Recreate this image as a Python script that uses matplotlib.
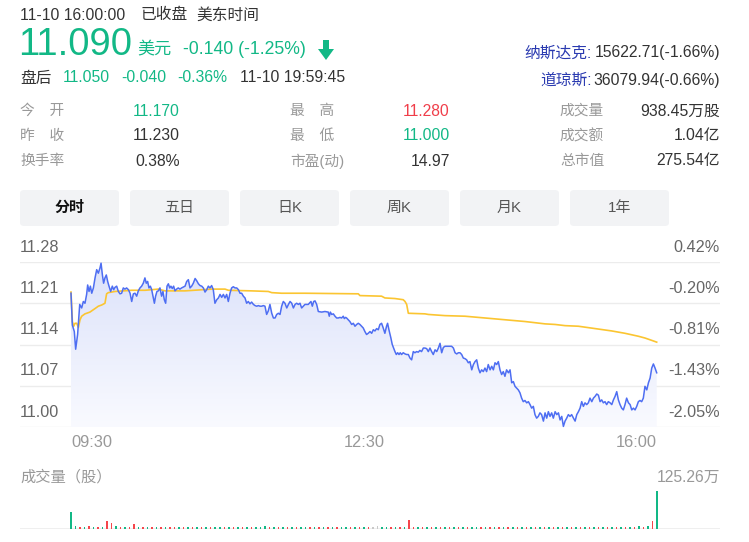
import numpy as np
import matplotlib
matplotlib.use("Agg")
import matplotlib.pyplot as plt
from matplotlib.patches import FancyBboxPatch, Polygon
from matplotlib.colors import LinearSegmentedColormap

plt.rcParams['font.family'] = ['Liberation Sans', 'Noto Sans CJK SC']

# ---------------- data ----------------
price_t = [0.0, 0.9, 2.2, 3.1, 4.4, 5.8, 7.1, 8.2, 9.3, 10.4, 11.1, 12.0, 12.9, 13.8, 14.9, 16.0, 17.1, 18.2, 19.3, 20.0,
           20.9, 21.7, 22.6, 23.5, 24.4, 25.3, 26.4, 27.5, 28.4, 29.3, 30.4, 31.5, 32.6, 33.7, 34.8, 35.9, 37.0, 38.2,
           39.3, 40.4, 41.5, 42.6, 43.7, 44.8, 45.9, 47.0, 48.1, 49.2, 50.1, 51.0, 51.9, 52.8, 53.7, 54.8, 55.5, 56.3,
           57.2, 58.1, 59.2, 60.3, 61.2, 62.1, 63.0, 63.9, 64.8, 65.7, 66.5, 67.4, 68.3, 69.2, 70.3, 71.4, 72.5, 73.6,
           75.9, 77.0, 78.1, 79.2, 80.3, 81.4, 82.6, 83.7, 84.8, 85.9, 87.0, 88.1, 89.2, 90.3, 91.4, 92.5, 93.6, 94.7,
           95.8, 97.0, 98.1, 99.2, 100.3, 101.4, 102.5, 103.6, 104.7, 105.8, 106.9, 108.0, 109.2, 110.3, 111.4, 112.5,
           113.6, 114.7, 115.8, 116.9, 118.0, 119.1, 120.2, 121.4, 122.5, 123.6, 124.7, 125.8, 126.9, 128.0, 129.1,
           130.2, 131.3, 132.4, 133.6, 134.7, 135.8, 136.9, 138.0, 139.1, 140.2, 141.3, 142.4, 143.6, 144.7, 145.8,
           146.9, 148.0, 149.1, 150.2, 151.3, 152.4, 153.5, 154.6,
           155.7, 157.9, 159.7, 160.6, 161.5, 162.4, 163.5, 164.6, 166.8, 169.0, 171.2, 171.9, 172.6, 173.5, 174.6,
           175.7, 176.8, 177.9, 179.0, 180.1, 181.2, 181.9, 182.8, 183.4, 184.5, 185.6, 186.8, 187.9, 189.0, 190.1,
           191.2, 192.3, 193.4, 194.5, 195.6, 196.7, 197.8, 199.0, 200.1, 201.2, 202.3, 203.4, 204.5, 205.6, 206.7,
           207.8, 208.9, 210.0, 210.7, 211.6, 212.9, 213.8, 214.7, 215.6, 216.5, 217.4, 218.3, 219.1, 220.0, 221.1,
           222.3, 223.4, 224.5, 225.6, 226.7, 227.8, 228.9, 230.0, 231.1, 232.2, 233.3, 234.5,
           235.6, 236.7, 237.8, 238.9, 240.0, 241.1, 242.3, 243.4, 244.5, 245.6, 246.7, 247.8, 248.9, 251.1, 253.3,
           254.5, 255.6, 256.7, 257.8, 258.9, 260.0, 261.1, 262.2, 263.3, 264.4, 265.5, 266.7, 267.8, 268.9, 270.0,
           271.1, 272.2, 273.3, 274.4, 275.5, 276.6, 277.7, 278.9, 280.0, 281.1, 282.2, 283.3, 284.4, 285.5, 286.6,
           287.7, 288.8, 289.9, 291.1, 292.2, 293.3, 294.4, 295.5, 296.6, 297.7, 298.8, 299.9, 301.0, 302.1, 303.3,
           304.4, 305.5, 306.6, 307.7, 308.8, 309.9, 311.0, 312.1, 313.2, 314.4,
           315.5, 316.6, 317.7, 318.8, 319.9, 321.0, 322.2, 323.3, 324.4, 325.5, 326.6, 327.7, 328.8, 329.9, 331.0,
           332.1, 333.2, 334.4, 335.5, 336.6, 337.7, 338.8, 339.9, 341.0, 342.1, 343.2, 344.3, 345.4, 346.6, 347.7,
           348.8, 349.9, 351.0, 352.1, 353.2, 354.3, 355.4, 356.5, 357.6, 358.8, 359.9, 361.0, 362.1, 363.2, 364.3,
           365.4, 366.5, 367.6, 368.7, 369.8, 371.0, 372.1, 373.2, 374.3, 375.4, 376.5, 377.6, 378.7, 379.8, 380.9,
           382.0, 383.2, 384.3, 385.4, 386.5, 387.6, 388.7, 389.8]
price_v = [11.227, 11.173, 11.162, 11.132, 11.157, 11.208, 11.202, 11.213, 11.210, 11.225, 11.241, 11.230, 11.239, 11.227,
           11.236, 11.253, 11.267, 11.261, 11.270, 11.278, 11.258, 11.244, 11.253, 11.258, 11.247, 11.239, 11.230, 11.239,
           11.233, 11.237, 11.239, 11.230, 11.226, 11.227, 11.236, 11.234, 11.236, 11.233, 11.227, 11.213, 11.226, 11.227,
           11.222, 11.231, 11.236, 11.239, 11.244, 11.253, 11.244, 11.247, 11.236, 11.239, 11.233, 11.219, 11.210, 11.222,
           11.230, 11.231, 11.236, 11.222, 11.230, 11.216, 11.210, 11.239, 11.243, 11.236, 11.239, 11.235, 11.239, 11.231,
           11.234, 11.236, 11.234, 11.236,
           11.239, 11.247, 11.250, 11.236, 11.239, 11.244, 11.252, 11.248, 11.243, 11.240, 11.239, 11.236, 11.229, 11.233,
           11.239, 11.236, 11.240, 11.233, 11.210, 11.216, 11.219, 11.225, 11.220, 11.225, 11.219, 11.225, 11.213, 11.227,
           11.236, 11.238, 11.236, 11.236, 11.233, 11.227, 11.227, 11.222, 11.219, 11.210, 11.213, 11.209, 11.212, 11.208,
           11.206, 11.205, 11.206, 11.205, 11.205, 11.206, 11.205, 11.191, 11.197, 11.208, 11.193, 11.185, 11.185, 11.191,
           11.193, 11.191, 11.205, 11.213, 11.210, 11.202, 11.208, 11.213, 11.210, 11.202, 11.208, 11.210, 11.208, 11.210,
           11.202, 11.205,
           11.208, 11.208, 11.213, 11.205, 11.213, 11.214, 11.208, 11.196, 11.195, 11.196, 11.195, 11.188, 11.195, 11.191,
           11.192, 11.188, 11.185, 11.185, 11.186, 11.185, 11.188, 11.184, 11.186, 11.185, 11.182, 11.179, 11.174, 11.176,
           11.171, 11.174, 11.176, 11.174, 11.171, 11.168, 11.162, 11.157, 11.159, 11.162, 11.159, 11.165, 11.163, 11.167,
           11.165, 11.174, 11.176, 11.168, 11.159, 11.171, 11.176, 11.165, 11.151, 11.140, 11.134, 11.128, 11.123, 11.126,
           11.123, 11.126, 11.123, 11.126, 11.124, 11.123, 11.123, 11.117, 11.114, 11.128, 11.126, 11.128, 11.127, 11.130,
           11.128, 11.134,
           11.134, 11.133, 11.128, 11.134, 11.128, 11.123, 11.131, 11.128, 11.134, 11.142, 11.126, 11.135, 11.137, 11.137,
           11.137, 11.134, 11.126, 11.124, 11.126, 11.126, 11.123, 11.117, 11.116, 11.114, 11.109, 11.111, 11.097, 11.106,
           11.111, 11.114, 11.100, 11.092, 11.097, 11.094, 11.100, 11.094, 11.106, 11.097, 11.103, 11.097, 11.109, 11.106,
           11.111, 11.097, 11.089, 11.094, 11.086, 11.097, 11.092, 11.097, 11.075, 11.077, 11.069, 11.066, 11.063, 11.058,
           11.049, 11.043, 11.045, 11.041, 11.043, 11.038, 11.032, 11.035, 11.021, 11.015, 11.018, 11.024, 11.021, 11.010,
           11.024, 11.015, 11.026, 11.018, 11.024, 11.015, 11.026, 11.021, 11.024, 11.012, 11.018, 11.001, 11.010, 11.015,
           11.021, 11.018, 11.021, 11.015, 11.010, 11.021, 11.026, 11.032, 11.043, 11.035, 11.041, 11.038, 11.041, 11.049,
           11.043, 11.049, 11.052, 11.056, 11.054, 11.043, 11.046, 11.041, 11.043, 11.038, 11.043, 11.041, 11.038, 11.046,
           11.052, 11.060, 11.046, 11.038, 11.032, 11.029, 11.038, 11.049, 11.041, 11.038, 11.029, 11.032, 11.029, 11.035,
           11.043, 11.045, 11.043, 11.049, 11.069, 11.063, 11.075, 11.083, 11.100, 11.107, 11.100, 11.092]

avg_t = [0.0, 0.9, 1.8, 2.7, 3.8, 4.9, 6.0, 7.1, 9.3, 12.6, 16.0, 18.2, 20.4, 22.6, 23.7, 24.8, 29.3, 40.4, 49.2, 58.1,
         62.6, 75.9, 93.6, 102.5, 104.7, 120.2, 131.3, 133.6, 140.2, 155.6, 191.2, 192.3, 206.7, 208.9, 215.6, 221.1,
         222.3, 223.4, 224.5, 235.6, 237.8, 248.9, 262.2, 275.5, 288.8, 302.1, 315.5, 322.2, 328.8, 337.7, 348.8,
         359.9, 368.7, 377.6, 382.0, 386.5, 389.8]
avg_v = [11.229, 11.179, 11.171, 11.176, 11.176, 11.169, 11.182, 11.188, 11.192, 11.195, 11.201, 11.205, 11.207, 11.210,
         11.226, 11.228, 11.230, 11.232, 11.232, 11.234, 11.231, 11.231, 11.234, 11.234, 11.232, 11.231, 11.230, 11.228,
         11.227, 11.227, 11.226, 11.223, 11.222, 11.219, 11.218, 11.216, 11.213, 11.208, 11.193, 11.192, 11.191, 11.189,
         11.188, 11.185, 11.182, 11.179, 11.175, 11.174, 11.172, 11.171, 11.167, 11.163, 11.159, 11.154, 11.151, 11.147,
         11.144]

# volume (万股), one bar every 3 minutes
vol_t = list(range(0, 391, 3))
vol_v = [55, 10, 8, 7, 9, 7, 8, 6, 25, 20,
         9, 8, 7, 6, 16, 7, 6, 7, 8, 6,
         7, 6, 7, 8, 6, 7, 6, 7, 6, 7,
         6, 8, 6, 7, 6, 6, 7, 6, 6, 5,
         6, 5, 6, 9, 6, 7, 6, 5, 6, 7,
         5, 6, 5, 6, 5, 5, 6, 5, 6, 5,
         6, 5, 5, 6, 5, 6, 5, 7, 9, 6,
         5, 7, 6, 5, 6, 30, 6, 5, 6, 7,
         6, 5, 6, 8, 6, 5, 6, 7, 6, 5,
         6, 7, 6, 5, 6, 7, 6, 5, 6, 7,
         6, 7, 6, 7, 8, 6, 7, 6, 7, 8,
         7, 6, 7, 8, 7, 6, 7, 8, 7, 6,
         7, 8, 7, 8, 7, 8, 9, 8, 11, 27,
         125.26]
vol_c = ("ggrgrgrgrr" "grgrrgrgrg" "rgrrgrgrgr" "grggrgrgrg" "rgggrgrgrg" "rggrgrgrgr" "ggrgrgrnng"
         "grgrgrrgrg" "rgrgrgrgrg" "grgrgrgrgr" "grgrgrgrgr" "grgrgrgrgr" "grgrgrgrgr" "g")

y_ticks = [11.28, 11.21, 11.14, 11.07, 11.00]
y_left_labels = ["11.28", "11.21", "11.14", "11.07", "11.00"]
y_right_labels = ["0.42%", "-0.20%", "-0.81%", "-1.43%", "-2.05%"]
x_tick_pos = [0, 195, 390]
x_tick_labels = ["09:30", "12:30", "16:00"]
tabs = ["分时", "五日", "日K", "周K", "月K", "1年"]

table_rows = [
    [("今\u3000开", "11.170", "green"), ("最\u3000高", "11.280", "red"), ("成交量", "938.45万股", "dark")],
    [("昨\u3000收", "11.230", "dark"), ("最\u3000低", "11.000", "green"), ("成交额", "1.04亿", "dark")],
    [("换手率", "0.38%", "dark"), ("市盈(动)", "14.97", "dark"), ("总市值", "275.54亿", "dark")],
]

# ---------------- style ----------------
W, H = 749, 542
GREEN = "#12b886"
RED = "#f03e4a"
DARK = "#333333"
GRAY = "#999999"
LBL = "#666666"
BLUE = "#4e6ef2"
YELLOW = "#fbc531"
GRID = "#ececec"
colmap = {"green": GREEN, "red": RED, "dark": DARK}
FS = 11.3

fig = plt.figure(figsize=(W / 100, H / 100), dpi=100)
fig.patch.set_facecolor("white")


def T(x, y, s, **kw):
    kw.setdefault("va", "center")
    kw.setdefault("ha", "left")
    return fig.text(x / W, 1 - y / H, s, **kw)


# header
T(20, 15, "11-10 16:00:00", fontsize=FS, color=DARK)
T(141, 15, "已收盘", fontsize=FS, color=DARK)
T(196, 15, "美东时间", fontsize=FS, color=DARK)
T(18, 45, "11.090", fontsize=27.5, color=GREEN)
T(137, 49, "美元", fontsize=12.3, color=GREEN)
T(183, 49, "-0.140 (-1.25%)", fontsize=12.7, color=GREEN)
# down arrow icon
arrow = Polygon([(323 / W, 1 - 40 / H), (329 / W, 1 - 40 / H), (329 / W, 1 - 49 / H), (334 / W, 1 - 49 / H),
                 (326 / W, 1 - 60 / H), (318 / W, 1 - 49 / H), (323 / W, 1 - 49 / H)],
                closed=True, transform=fig.transFigure, facecolor=GREEN, edgecolor="none")
fig.patches.append(arrow)

T(20, 78, "盘后", fontsize=FS, color=DARK)
T(63, 78, "11.050", fontsize=FS, color=GREEN)
T(121, 78, "-0.040", fontsize=FS, color=GREEN)
T(177, 78, "-0.36%", fontsize=FS, color=GREEN)
T(240, 78, "11-10 19:59:45", fontsize=FS, color=DARK)

T(720, 53, "15622.71(-1.66%)", fontsize=FS, color=DARK, ha="right")
T(592, 53, "纳斯达克:", fontsize=FS, color="#2a3ab0", ha="right")
T(720, 80, "36079.94(-0.66%)", fontsize=FS, color=DARK, ha="right")
T(592, 80, "道琼斯:", fontsize=FS, color="#2a3ab0", ha="right")

# table
col_lbl_x = [20, 290, 560]
col_val_x = [180, 450, 720]
row_y = [111, 136, 161]
for r, row in enumerate(table_rows):
    for c, (lab, val, col) in enumerate(row):
        T(col_lbl_x[c], row_y[r], lab, fontsize=10.6, color=GRAY)
        T(col_val_x[c], row_y[r], val, fontsize=11.3, color=colmap[col], ha="right")

# tabs
for i, name in enumerate(tabs):
    x0 = 20 + i * 110
    box = FancyBboxPatch((x0 / W, 1 - 226 / H), 99 / W, 36 / H,
                         boxstyle="round,pad=0,rounding_size=0.006", transform=fig.transFigure,
                         facecolor="#f2f3f5", edgecolor="none")
    fig.patches.append(box)
    T(x0 + 49.5, 208, name, fontsize=10.8, ha="center",
      color="#111111" if i == 0 else "#555555", fontweight="bold" if i == 0 else "normal")

# ---------------- main price chart ----------------
px_per_min = 586 / 390
xl = (20 - 71) / px_per_min
xr = 390 + (720 - 657) / px_per_min
ax = fig.add_axes([20 / W, (H - 427) / H, 700 / W, 165 / H])
ax.set_xlim(xl, xr)
ax.set_ylim(11.00, 11.28)
ax.axis("off")
for yv in y_ticks:
    ax.axhline(yv, color=GRID, lw=1, zorder=0)

pt = np.array(price_t)
pv = np.array(price_v)
verts = np.column_stack([np.r_[pt, pt[-1], pt[0]], np.r_[pv, 11.00, 11.00]])
poly = Polygon(verts, closed=True, facecolor="none", edgecolor="none")
ax.add_patch(poly)
cmap = LinearSegmentedColormap.from_list("fillg", ["#f9faff", "#dce2fa"])
grad = np.linspace(0, 1, 256).reshape(-1, 1)
im = ax.imshow(grad, extent=[pt[0], pt[-1], 11.00, max(price_v)], origin="lower", aspect="auto",
               cmap=cmap, zorder=1, interpolation="bilinear")
im.set_clip_path(poly)
ax.set_xlim(xl, xr)
ax.set_ylim(11.00, 11.28)
ax.plot(pt, pv, color=BLUE, lw=1.1, zorder=3, clip_on=False)
ax.plot(avg_t, avg_v, color=YELLOW, lw=1.2, zorder=2, clip_on=False)

for yv, l1, l2 in zip(y_ticks, y_left_labels, y_right_labels):
    ax.annotate(l1, xy=(0, yv), xycoords=("axes fraction", "data"), xytext=(0, 10.8),
                textcoords="offset points", ha="left", va="center", fontsize=11.7, color=LBL)
    ax.annotate(l2, xy=(1, yv), xycoords=("axes fraction", "data"), xytext=(0, 10.8),
                textcoords="offset points", ha="right", va="center", fontsize=11.7, color=LBL)
for xp, lab, ha in zip(x_tick_pos, x_tick_labels, ["left", "center", "right"]):
    ax.annotate(lab, xy=(xp, 11.00), xycoords="data", xytext=(0, -11.5), textcoords="offset points",
                ha=ha, va="center", fontsize=11.8, color=GRAY)

# ---------------- volume chart ----------------
T(20, 477, "成交量（股）", fontsize=11, color=GRAY)
T(720, 477, "125.26万", fontsize=FS, color=GRAY, ha="right")
axv = fig.add_axes([20 / W, (H - 529) / H, 700 / W, 38 / H])
axv.set_xlim(xl, xr)
axv.set_ylim(0, 125.26)
axv.axis("off")
axv.axhline(0, color=GRID, lw=1.2, zorder=0)
vc = {"r": "#f5464c", "g": "#12b886", "n": "#c9c9c9"}
colors = [vc[c] for c in vol_c[:len(vol_v)]]
axv.bar(vol_t, vol_v, width=1.0, color=colors, zorder=2)

fig.savefig("out.png", dpi=100, facecolor="white")
